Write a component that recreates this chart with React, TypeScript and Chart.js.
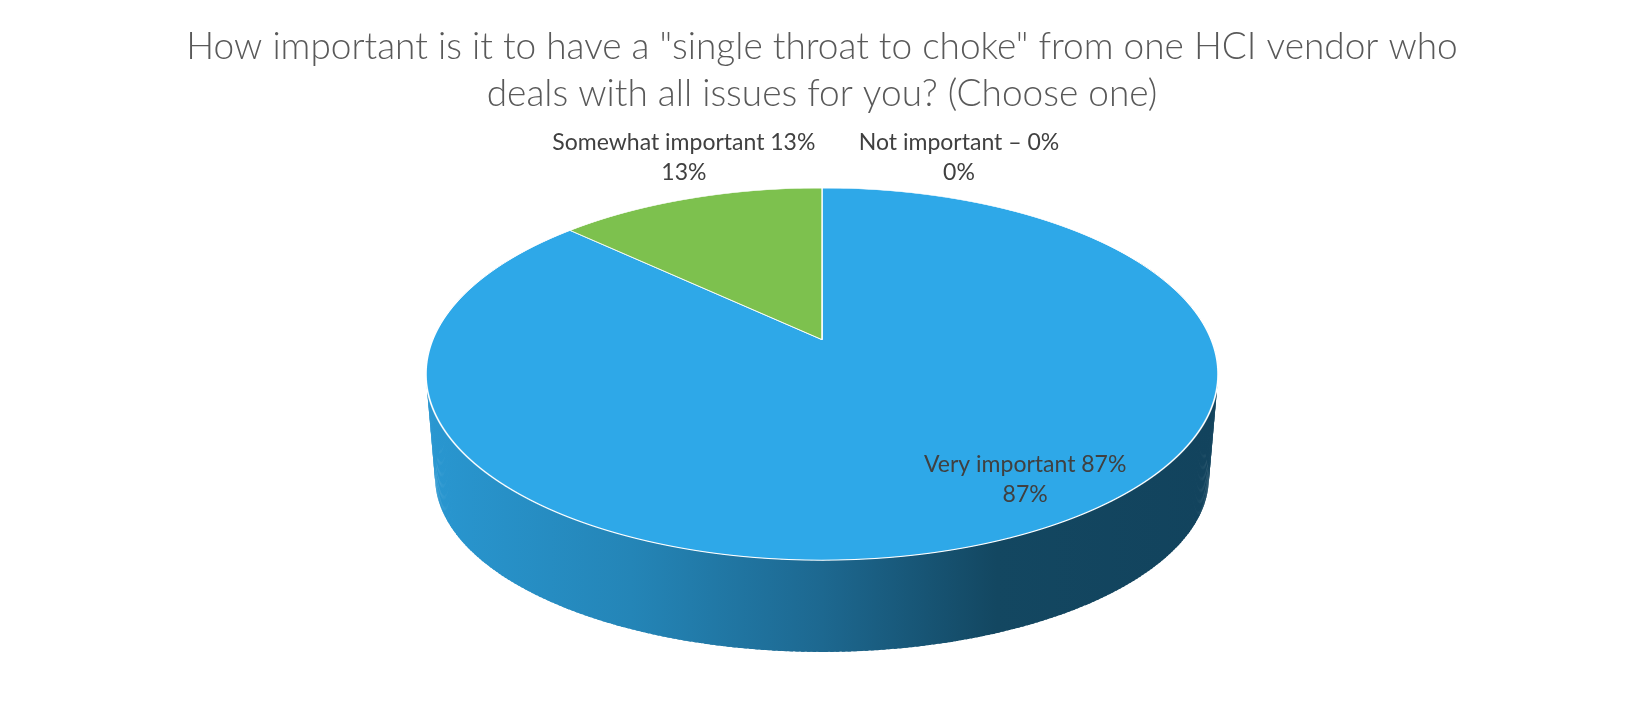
import React, { useEffect, useRef } from "react";
import { Chart, registerables } from "chart.js";

Chart.register(...registerables);

const categories = ["Very important 87%", "Somewhat important 13%", "Not important – 0%"];
const values = [87, 13, 0];
const sliceColors = ["#2EA8E8", "#7DC14E", "#A5A5A5"];
const titleLines = [
  'How important is it to have a "single throat to choke" from one HCI vendor who',
  "deals with all issues for you? (Choose one)",
];
// label placement offsets (first line centre relative to slice mid-point on the rim)
const labelOffsets: [number, number][] = [
  [17, -74],
  [-6, -56],
  [137, -45],
];

const FONT = "Lato, 'Open Sans', sans-serif";
const PERSP = 0.185; // perspective strength of the 3-D view

function hexToRgb(h: string) {
  const n = parseInt(h.slice(1), 16);
  return [(n >> 16) & 255, (n >> 8) & 255, n & 255];
}
function shade(h: string, f: number) {
  const [r, g, b] = hexToRgb(h);
  return `rgb(${Math.round(r * f)},${Math.round(g * f)},${Math.round(b * f)})`;
}

type Disc = { cx: number; cy: number; K: number; L: number; p: number };

function geom(chart: any) {
  const a = chart.chartArea;
  const h = a.bottom - a.top;
  const cx = (a.left + a.right) / 2;
  const L = 0.3873 * h;
  const apex = a.top + L / (1 + PERSP);
  const top: Disc = { cx, cy: apex, K: 0.8387 * h, L, p: PERSP };
  const bottom: Disc = { cx, cy: apex + 0.2271 * h, K: 0.8194 * h, L: 0.3634 * h, p: PERSP };
  return { top, bottom };
}

function proj(d: Disc, ang: number): [number, number] {
  const u = Math.cos(ang);
  const v = Math.sin(ang);
  const den = 1 - d.p * v;
  return [d.cx + (d.K * u) / den, d.cy + (d.L * v) / den];
}

const pie3d = {
  id: "pie3d",
  beforeDatasetsDraw(chart: any) {
    const ctx = chart.ctx;
    const meta = chart.getDatasetMeta(0);
    const { top, bottom } = geom(chart);
    const dpr = chart.currentDevicePixelRatio || 1;

    // side wall (front part only)
    meta.data.forEach((el: any, i: number) => {
      const s = el.startAngle;
      const e = el.endAngle;
      if (e - s <= 0) return;
      const color = sliceColors[i];
      const grad = ctx.createLinearGradient(top.cx - top.K * 1.02, 0, top.cx + top.K * 1.02, 0);
      grad.addColorStop(0, shade(color, 0.9));
      grad.addColorStop(0.26, shade(color, 0.79));
      grad.addColorStop(0.5, shade(color, 0.62));
      grad.addColorStop(0.72, shade(color, 0.42));
      grad.addColorStop(1, shade(color, 0.4));
      ctx.save();
      ctx.fillStyle = grad;
      for (const off of [-2 * Math.PI, 0, 2 * Math.PI]) {
        const a0 = Math.max(s, off - 0.5);
        const a1 = Math.min(e, Math.PI + 0.5 + off);
        if (a1 <= a0) continue;
        const n = Math.max(4, Math.ceil((a1 - a0) * 80));
        const step = (a1 - a0) / n;
        for (let k = 0; k < n; k++) {
          const b0 = a0 + step * k;
          const b1 = Math.min(a1, b0 + step * 1.6);
          const p1 = proj(top, b0);
          const p2 = proj(top, b1);
          const p3 = proj(bottom, b1);
          const p4 = proj(bottom, b0);
          ctx.beginPath();
          ctx.moveTo(p1[0], p1[1]);
          ctx.lineTo(p2[0], p2[1]);
          ctx.lineTo(p3[0], p3[1]);
          ctx.lineTo(p4[0], p4[1]);
          ctx.closePath();
          ctx.fill();
        }
      }
      ctx.restore();
    });

    // top surface: library arcs drawn through a banded perspective transform
    const el0 = meta.data[0];
    const R = el0.outerRadius;
    const xc = el0.x;
    const yc = el0.y;
    const yTop = Math.floor(top.cy - top.L / (1 + top.p)) - 2;
    const yBot = Math.ceil(top.cy + top.L / (1 - top.p)) + 2;
    for (let Y0 = yTop; Y0 < yBot; Y0++) {
      const Ym = Y0 + 0.5;
      const dd = Ym - top.cy;
      let v = dd / (top.L + top.p * dd);
      v = Math.max(-1.05, Math.min(1.05, v));
      const den = 1 - top.p * v;
      const s = top.K / den;
      const dY = top.L / (den * den);
      const a = s / R;
      const d = dY / R;
      const eX = top.cx - a * xc;
      const fY = Ym - d * yc - dY * v;
      ctx.save();
      ctx.beginPath();
      ctx.rect(0, Y0, chart.width, 1);
      ctx.clip();
      ctx.setTransform(a * dpr, 0, 0, d * dpr, eX * dpr, fY * dpr);
      meta.data.forEach((el: any) => el.draw(ctx));
      ctx.restore();
    }
    return false;
  },
  afterDraw(chart: any) {
    const ctx = chart.ctx;
    const meta = chart.getDatasetMeta(0);
    const { top } = geom(chart);
    ctx.save();
    ctx.font = `23px ${FONT}`;
    ctx.fillStyle = "#404040";
    ctx.textAlign = "center";
    ctx.textBaseline = "middle";
    meta.data.forEach((el: any, i: number) => {
      const mid = (el.startAngle + el.endAngle) / 2;
      const [mx, my] = proj(top, mid);
      const px = mx + labelOffsets[i][0];
      const py = my + labelOffsets[i][1];
      ctx.fillText(categories[i], px, py);
      ctx.fillText(values[i] + "%", px, py + 30);
    });
    ctx.restore();
  },
};

export default function App() {
  const ref = useRef<HTMLCanvasElement>(null);
  useEffect(() => {
    const chart = new Chart(ref.current!, {
      type: "pie",
      data: {
        labels: categories,
        datasets: [
          {
            data: values,
            backgroundColor: sliceColors,
            borderColor: "#FFFFFF",
            borderWidth: 0.9,
          },
        ],
      },
      options: {
        responsive: false,
        animation: false,
        events: [],
        layout: { padding: { top: 0, bottom: 75, left: 0, right: 0 } },
        plugins: {
          legend: { display: false },
          tooltip: { enabled: false },
          title: {
            display: true,
            text: titleLines,
            color: "#595959",
            font: { family: FONT, size: 37, weight: 300 as any, lineHeight: 1.27 },
            padding: { top: 24, bottom: 70 },
          },
        },
      },
      plugins: [pie3d],
    });
    return () => chart.destroy();
  }, []);
  return (
    <div style={{ position: "fixed", left: 0, top: 0, width: 1644, height: 727, background: "#fff" }}>
      <canvas ref={ref} width={1644} height={727} />
    </div>
  );
}
